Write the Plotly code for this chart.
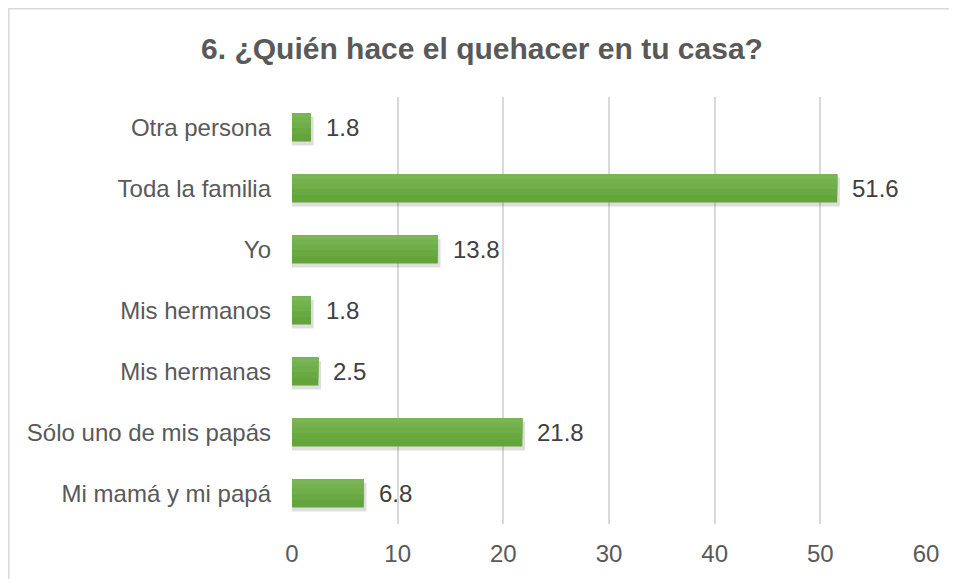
import plotly.graph_objects as go

categories = ["Mi mamá y mi papá", "Sólo uno de mis papás", "Mis hermanas",
              "Mis hermanos", "Yo", "Toda la familia", "Otra persona"]
values = [6.8, 21.8, 2.5, 1.8, 13.8, 51.6, 1.8]
x_ticks = [0, 10, 20, 30, 40, 50, 60]
title_text = "6. ¿Quién hace el quehacer en tu casa?"

FONT = "Liberation Sans, Arial, sans-serif"
TXT = "#595959"
VAL = "#404040"
W, H = 949, 571
L, R, T, B = 284, 31, 89, 55
pw, ph = W - L - R, H - T - B

def px2paper_x(px):
    return (px - L) / pw

def px2paper_y(py):
    return (H - B - py) / ph

fig = go.Figure()

# soft shadow
fig.add_trace(go.Bar(
    y=categories, x=[v + 0.25 for v in values], orientation="h",
    width=0.47, offset=-0.235 - 0.06,
    marker=dict(color="rgba(0,0,0,0.13)", line=dict(width=0)),
    hoverinfo="skip", showlegend=False,
))
# main bars (stepped gradient)
fig.add_trace(go.Bar(
    y=categories, x=values, orientation="h",
    width=0.46, offset=-0.23,
    marker=dict(color="#64a53b", line=dict(width=0)),
    showlegend=False,
))
for i, (w, c) in enumerate([(0.34, "#69a941"), (0.24, "#6fae48"),
                            (0.15, "#74b24f"), (0.07, "#79b655")]):
    fig.add_trace(go.Bar(
        y=categories, x=values, orientation="h",
        width=w, offset=0.23 - w,
        marker=dict(color=c, line=dict(width=0)),
        hoverinfo="skip", showlegend=False,
    ))

for cat, v in zip(categories, values):
    fig.add_annotation(
        x=v, y=cat, text=f"{v}", showarrow=False,
        xanchor="left", yanchor="middle", xshift=13,
        font=dict(family=FONT, size=24, color=VAL),
    )

fig.add_shape(
    type="rect", xref="paper", yref="paper",
    x0=px2paper_x(0.75), x1=px2paper_x(1000),
    y0=px2paper_y(640), y1=px2paper_y(0.75),
    line=dict(color="#d9d9d9", width=1.5), fillcolor="rgba(0,0,0,0)",
    layer="below",
)

fig.update_layout(
    width=W, height=H,
    margin=dict(l=L, r=R, t=T, b=B, pad=0),
    paper_bgcolor="white", plot_bgcolor="white",
    barmode="overlay",
    title=dict(text=f"<b>{title_text}</b>", x=474 / W, xanchor="center",
               y=1 - 40 / H, yanchor="middle", yref="container",
               font=dict(family=FONT, size=30, color=TXT)),
    xaxis=dict(range=[0, 60], tickvals=x_ticks, showgrid=True,
               gridcolor="#d9d9d9", gridwidth=1.5, zeroline=False,
               showline=False, ticks="", ticklabelstandoff=13,
               tickfont=dict(family=FONT, size=24, color=TXT), fixedrange=True),
    yaxis=dict(categoryorder="array", categoryarray=categories,
               showgrid=False, zeroline=False, showline=False, ticks="",
               ticklabelstandoff=20,
               tickfont=dict(family=FONT, size=24, color=TXT),
               range=[-0.5, 6.5]),
    font=dict(family=FONT),
)

fig.write_html("out.html")
